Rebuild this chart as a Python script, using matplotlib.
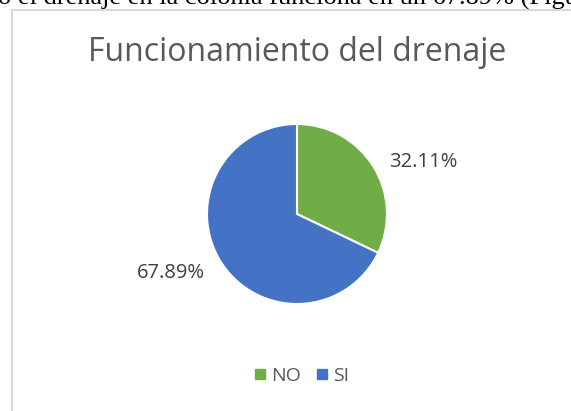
import matplotlib.pyplot as plt
from matplotlib.patches import Rectangle
from matplotlib.lines import Line2D

plt.rcParams['font.family'] = ['Open Sans', 'DejaVu Sans']

# datos del grafico
categorias = ["NO", "SI"]
porcentajes = [32.11, 67.89]
colores = ["#70AD47", "#4472C4"]
etiquetas = ["32.11%", "67.89%"]
titulo = "Funcionamiento del drenaje"
texto_superior = "o el drenaje en la colonia funciona en un 67.89% (Figura"

W, H = 571, 411
fig = plt.figure(figsize=(W / 100, H / 100), dpi=100)
fig.patch.set_facecolor("white")

# marco del grafico (solo se ven el borde izquierdo y el superior)
top = 1 - 10 / H
fig.patches.append(Rectangle((12 / W, -0.1), 1.0, top + 0.1,
                             transform=fig.transFigure, fill=False,
                             edgecolor="#D9D9D9", linewidth=1.5))

# texto del documento cortado arriba
fig.text(-0.004, 1 - 5 / H, texto_superior, family="Liberation Serif",
         fontsize=19, color="black", va="baseline", ha="left")

fig.text(297 / W, 1 - 61 / H, titulo, fontsize=23, color="#595959",
         ha="center", va="baseline")

# pastel
r = 90
cx, cy = 297, 214
ax = fig.add_axes([(cx - r) / W, 1 - (cy + r) / H, 2 * r / W, 2 * r / H])
ax.pie(porcentajes, colors=colores, startangle=90, counterclock=False,
       wedgeprops=dict(edgecolor="white", linewidth=1.5), radius=1)
ax.set_xlim(-1, 1)
ax.set_ylim(-1, 1)
ax.set_aspect("equal")
ax.axis("off")

fig.text(423 / W, 1 - 162 / H, etiquetas[0], fontsize=14.5, color="#404040",
         ha="center", va="center")
fig.text(171 / W, 1 - 273 / H, etiquetas[1], fontsize=14.5, color="#404040",
         ha="center", va="center")

handles = [Line2D([], [], marker="s", linestyle="", markersize=6.5,
                  color=c) for c in colores]
fig.legend(handles, categorias, loc="center", bbox_to_anchor=(300 / W, 1 - 376 / H),
           ncol=2, frameon=False, fontsize=14, labelcolor="#595959",
           handletextpad=0.05, columnspacing=0.6, handlelength=1.0)

fig.savefig("out.png", dpi=100)
